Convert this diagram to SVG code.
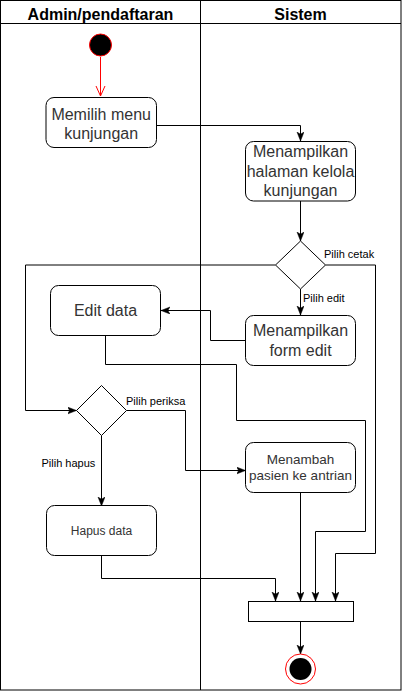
<svg xmlns="http://www.w3.org/2000/svg" width="402" height="691" viewBox="0 0 402 691">
<defs>
<style>
.frame{fill:none;stroke:#000;stroke-width:1}
.node{fill:#fff;stroke:#000;stroke-width:1}
.hdr{font-family:"Liberation Sans",Arial,sans-serif;font-size:16px;font-weight:bold;fill:#000;text-anchor:middle}
.t16{font-family:"Liberation Sans",Arial,sans-serif;font-size:16px;fill:#333;text-anchor:middle}
.t13{font-family:"Liberation Sans",Arial,sans-serif;font-size:13.5px;fill:#333;text-anchor:middle}
.t12{font-family:"Liberation Sans",Arial,sans-serif;font-size:12px;fill:#333;text-anchor:middle}
.lbl{font-family:"Liberation Sans",Arial,sans-serif;font-size:11px;fill:#000}
.edge{fill:none;stroke:#000;stroke-width:1;marker-end:url(#arr)}
</style>
<marker id="arr" markerUnits="userSpaceOnUse" markerWidth="10" markerHeight="8" refX="9" refY="3.5" orient="auto">
<path d="M0,0 L9,3.5 L0,7 L2.2,3.5 Z" fill="#000" stroke="#000" stroke-width="0.5"/>
</marker>
<marker id="open" markerUnits="userSpaceOnUse" markerWidth="12" markerHeight="12" refX="10" refY="5" orient="auto">
<path d="M0,0.5 L10,5 L0,9.5" fill="none" stroke="#f00" stroke-width="1"/>
</marker>
</defs>
<rect x="0" y="0" width="402" height="691" fill="#fff"/>
<g id="lanes">
<rect class="frame" x="0.5" y="0.5" width="400.5" height="689.5"/>
<line class="frame" x1="0.5" y1="23.5" x2="401" y2="23.5"/>
<line class="frame" x1="200.5" y1="0.5" x2="200.5" y2="690"/>
<text class="hdr" x="100.5" y="19.5">Admin/pendaftaran</text>
<text class="hdr" x="300.5" y="19.5">Sistem</text>
</g>
<g id="edges">
<path d="M100.5,57 V96" fill="none" stroke="#f00" stroke-width="1" marker-end="url(#open)"/>
<path class="edge" d="M156,125.5 H300.5 V141"/>
<path class="edge" d="M300.5,201 V241"/>
<path class="edge" d="M325.5,265 H375.5 V553.5 H335.5 V601"/>
<path class="edge" d="M275.5,265 H25.5 V410.5 H76.5"/>
<path class="edge" d="M300.5,289 V315"/>
<path class="edge" d="M245.5,340.5 H210.5 V310.5 H161"/>
<path class="edge" d="M105.5,336 V364.5 H236.5 V420.5 H365.5 V531.5 H315.5 V601"/>
<path class="edge" d="M126.5,410.5 H185.5 V470.5 H245.5"/>
<path class="edge" d="M101.5,435.5 V506"/>
<path class="edge" d="M101.5,555 V578.5 H275.5 V601"/>
<path class="edge" d="M300.5,492 V601"/>
<path class="edge" d="M300.5,621 V654"/>
<text class="lbl" x="324" y="258">Pilih cetak</text>
<text class="lbl" x="303" y="302">Pilih edit</text>
<text class="lbl" x="126" y="404.5">Pilih periksa</text>
<text class="lbl" x="41.5" y="467">Pilih hapus</text>
</g>
<g id="start">
<circle cx="100.5" cy="45" r="11" fill="#000" stroke="#f00" stroke-width="1"/>
</g>
<g id="memilih">
<rect class="node" x="46" y="97.5" width="110.5" height="50" rx="8"/>
<text class="t16" x="101.2" y="119.5">Memilih menu</text>
<text class="t16" x="101.2" y="138.7">kunjungan</text>
</g>
<g id="halaman">
<rect class="node" x="245.5" y="141.5" width="110" height="59.5" rx="8"/>
<text class="t16" x="300.5" y="157.3">Menampilkan</text>
<text class="t16" x="300.5" y="176.5">halaman kelola</text>
<text class="t16" x="300.5" y="195.7">kunjungan</text>
</g>
<g id="decision1">
<polygon class="node" points="300.5,241 325.5,265 300.5,289 275.5,265"/>
</g>
<g id="formedit">
<rect class="node" x="245.5" y="315.5" width="110" height="50" rx="8"/>
<text class="t16" x="300.5" y="336.4">Menampilkan</text>
<text class="t16" x="300.5" y="355.6">form edit</text>
</g>
<g id="editdata">
<rect class="node" x="50.5" y="285.5" width="110" height="50" rx="8"/>
<text class="t16" x="105.5" y="316">Edit data</text>
</g>
<g id="decision2">
<polygon class="node" points="101.5,385.5 126.5,410.5 101.5,435.5 76.5,410.5"/>
</g>
<g id="menambah">
<rect class="node" x="245.5" y="442.5" width="110" height="50" rx="8"/>
<text class="t13" x="300.5" y="463.5">Menambah</text>
<text class="t13" x="300.5" y="480">pasien ke antrian</text>
</g>
<g id="hapus">
<rect class="node" x="46.5" y="505.5" width="110" height="50" rx="8"/>
<text class="t12" x="101.5" y="534.5">Hapus data</text>
</g>
<g id="join">
<rect class="node" x="248.5" y="601.5" width="105" height="20"/>
</g>
<g id="end">
<circle cx="300.5" cy="669" r="15" fill="#fff" stroke="#f00" stroke-width="1"/>
<circle cx="300.5" cy="669" r="11" fill="#000"/>
</g>
</svg>
